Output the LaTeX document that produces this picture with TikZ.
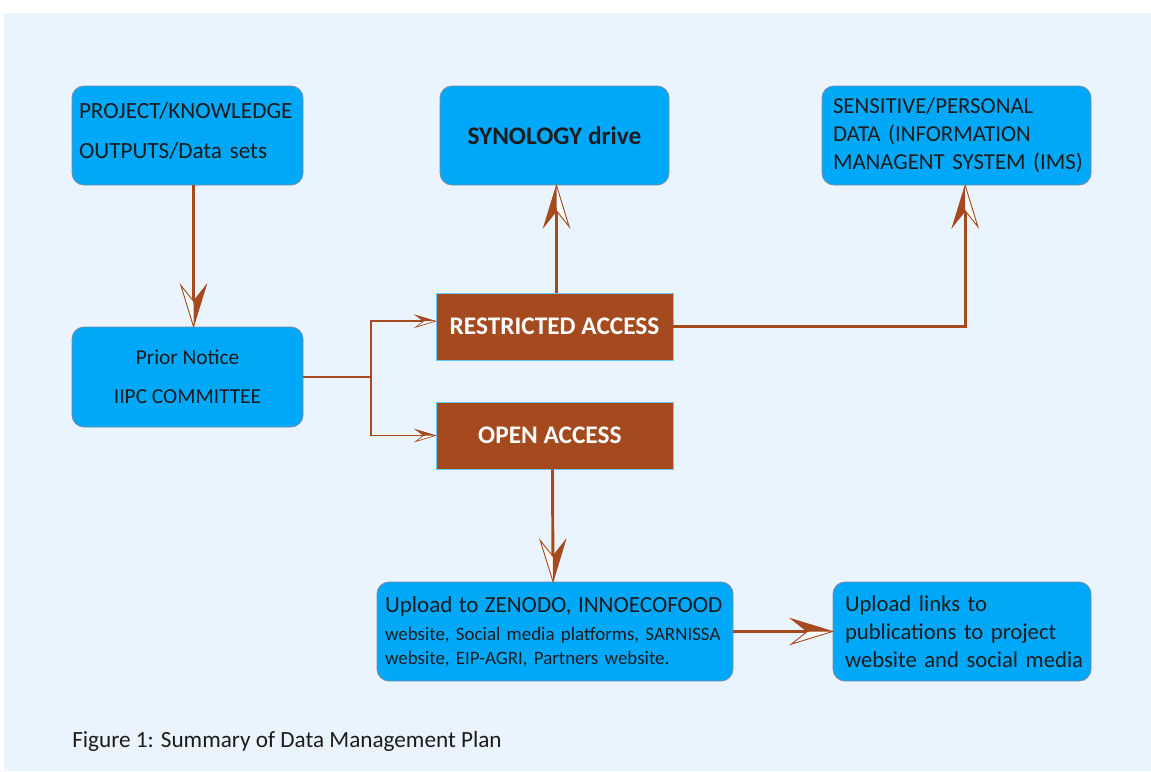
\documentclass[tikz,border=0pt]{standalone}
\usepackage{fontspec}
\setmainfont{Carlito}
\usetikzlibrary{arrows.meta}
\definecolor{bgblue}{RGB}{234,244,254}
\definecolor{boxblue}{RGB}{0,168,250}
\definecolor{boxline}{RGB}{120,140,160}
\definecolor{rust}{RGB}{165,74,30}
\definecolor{ink}{RGB}{28,28,28}
% half filled barbed tips
\pgfdeclarearrow{
  name = BigBarb,
  setup code = {
    \pgfarrowssettipend{31pt}
    \pgfarrowssetlineend{14pt}
    \pgfarrowssetbackend{0pt}
  },
  drawing code = {
    \pgfsetlinewidth{0.7pt}
    \pgfsetstrokecolor{rust}
    \pgfsetfillcolor{white}
    \pgfpathmoveto{\pgfpoint{31pt}{0pt}}
    \pgfpathlineto{\pgfpoint{0pt}{-9.5pt}}
    \pgfpathlineto{\pgfpoint{12pt}{0pt}}
    \pgfpathclose
    \pgfusepathqfill
    \pgfsetfillcolor{rust}
    \pgfpathmoveto{\pgfpoint{31pt}{0pt}}
    \pgfpathlineto{\pgfpoint{0pt}{9.5pt}}
    \pgfpathlineto{\pgfpoint{12pt}{0pt}}
    \pgfpathclose
    \pgfusepathqfill
    \pgfpathmoveto{\pgfpoint{31pt}{0pt}}
    \pgfpathlineto{\pgfpoint{0pt}{9.5pt}}
    \pgfpathlineto{\pgfpoint{12pt}{0pt}}
    \pgfpathlineto{\pgfpoint{0pt}{-9.5pt}}
    \pgfpathclose
    \pgfusepathqstroke
  },
  defaults = {}
}
\pgfdeclarearrow{
  name = SmallBarb,
  setup code = {
    \pgfarrowssettipend{15pt}
    \pgfarrowssetlineend{7pt}
    \pgfarrowssetbackend{0pt}
  },
  drawing code = {
    \pgfsetlinewidth{0.5pt}
    \pgfsetstrokecolor{rust}
    \pgfsetfillcolor{white}
    \pgfpathmoveto{\pgfpoint{15pt}{0pt}}
    \pgfpathlineto{\pgfpoint{0pt}{-4.5pt}}
    \pgfpathlineto{\pgfpoint{6pt}{0pt}}
    \pgfpathclose
    \pgfusepathqfill
    \pgfsetfillcolor{rust}
    \pgfpathmoveto{\pgfpoint{15pt}{0pt}}
    \pgfpathlineto{\pgfpoint{0pt}{4.5pt}}
    \pgfpathlineto{\pgfpoint{6pt}{0pt}}
    \pgfpathclose
    \pgfusepathqfill
    \pgfpathmoveto{\pgfpoint{15pt}{0pt}}
    \pgfpathlineto{\pgfpoint{0pt}{4.5pt}}
    \pgfpathlineto{\pgfpoint{6pt}{0pt}}
    \pgfpathlineto{\pgfpoint{0pt}{-4.5pt}}
    \pgfpathclose
    \pgfusepathqstroke
  },
  defaults = {}
}
\tikzset{
  bluebox/.style={draw=boxline, line width=0.6pt, fill=boxblue, rounded corners=9pt, text=ink, inner sep=0pt},
  rustbox/.style={draw=boxblue!60, line width=0.6pt, fill=rust, text=white, inner sep=0pt, font=\fontsize{19}{22}\selectfont\bfseries},
  bigarrow/.style={draw=rust, line width=2.2pt, -{BigBarb}},
  smallarrow/.style={draw=rust, line width=1.1pt, -{SmallBarb}},
}
\begin{document}
\begin{tikzpicture}[x=0.75pt,y=0.75pt,yscale=-1,xscale=1]
\useasboundingbox (0,0) rectangle (1151,771);
\fill[bgblue] (4,13) rectangle (1151,771);
% blue boxes, top row
\node[bluebox, minimum width=231*0.75pt, minimum height=99*0.75pt, text width=217*0.75pt, align=left, font=\fontsize{17.4}{30}\selectfont] (prj) at (187.5,135.5) {PROJECT/KNOWLEDGE\\OUTPUTS/Data sets\\[-22pt]\mbox{}};
\node[bluebox, minimum width=229*0.75pt, minimum height=99*0.75pt, font=\fontsize{19}{22}\selectfont\bfseries] (syn) at (554.5,135.5) {SYNOLOGY drive};
\node[bluebox, minimum width=269*0.75pt, minimum height=99*0.75pt, text width=247*0.75pt, align=left, font=\fontsize{17.1}{21}\selectfont] (sens) at (956.5,135.5) {\mbox{SENSITIVE/PERSONAL}\\\mbox{DATA (INFORMATION}\\\mbox{MANAGENT SYSTEM (IMS)}\\[-8pt]};
% committee
\node[bluebox, minimum width=231*0.75pt, minimum height=100*0.75pt, align=center, font=\fontsize{16}{29}\selectfont] (prior) at (187.5,377) {Prior Notice\\IIPC COMMITTEE};
% access boxes
\node[rustbox, minimum width=237*0.75pt, minimum height=67*0.75pt] (restr) at (554.5,326.5) {RESTRICTED ACCESS};
\node[rustbox, minimum width=237*0.75pt, minimum height=67*0.75pt] (open) at (554.5,435.5) {OPEN ACCESS\hspace*{7pt}};
% bottom row
\node[bluebox, minimum width=356*0.75pt, minimum height=99*0.75pt, text width=340*0.75pt, align=left, font=\fontsize{14.2}{18}\selectfont] (upl) at (555,631.5) {{\fontsize{17.3}{18}\selectfont Upload to ZENODO, INNOECOFOOD}\\[3pt]\mbox{website, Social media platforms, SARNISSA}\\website, EIP-AGRI, Partners website.};
\node[bluebox, minimum width=258*0.75pt, minimum height=99*0.75pt, text width=234*0.75pt, align=left, font=\fontsize{17}{21}\selectfont] (links) at (962,631.5) {\mbox{Upload links to}\\\mbox{publications to project}\\\mbox{website and social media}};
% caption
\node[anchor=west, text=ink, inner sep=0pt, font=\fontsize{17.4}{20}\selectfont] (cap) at (72,741) {Figure 1: Summary of Data Management Plan};
% connectors
\coordinate (split) at (371,377);
\draw[bigarrow] ([xshift=4.5]prj.south) -- ([xshift=4.5]prior.north);
\draw[rust, line width=1.1pt] (prior.east) -- (split);
\draw[smallarrow] (split) |- ([yshift=-4]restr.west);
\draw[smallarrow] (split) |- (open.west);
\draw[bigarrow] ([xshift=1.5]restr.north) -- ([xshift=1.5]syn.south);
\draw[bigarrow] (restr.east) -| ([xshift=6.5]sens.south);
\draw[bigarrow] ([xshift=-1.5]open.south) -- ([xshift=-1.5]upl.north);
\draw[bigarrow] (upl.east) -- (links.west);
\end{tikzpicture}
\end{document}
